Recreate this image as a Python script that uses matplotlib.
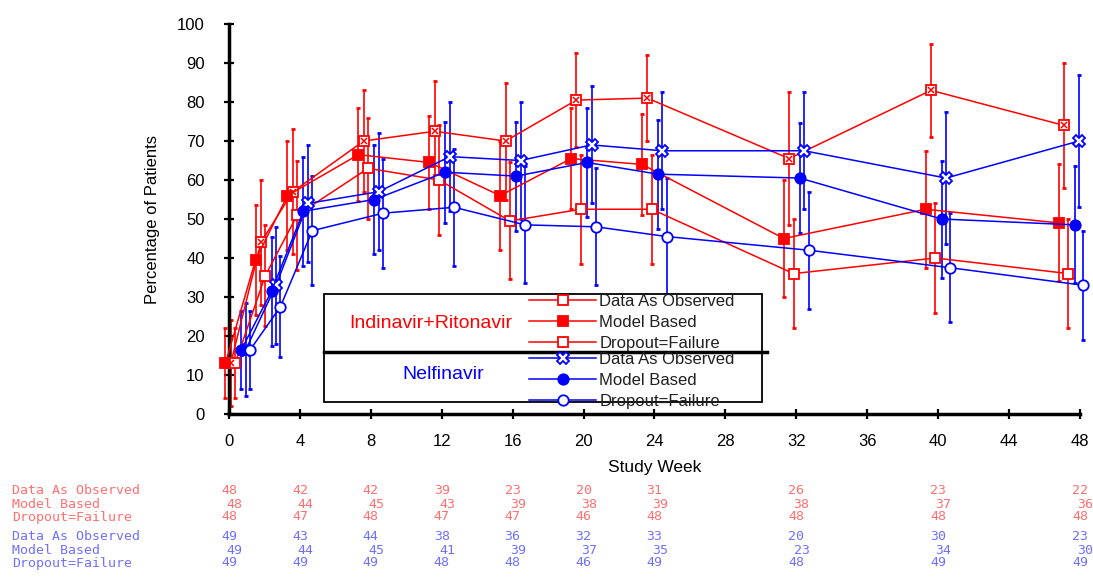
import numpy as np
import matplotlib.pyplot as plt
from matplotlib.patches import Rectangle
from matplotlib.lines import Line2D
import matplotlib.transforms as mtransforms

plt.rcParams['font.family'] = ['Liberation Sans', 'DejaVu Sans']

# mean study week of each visit, and the n-table weeks
weeks = [0.5, 2.2, 4, 8, 12, 16, 20, 24, 32, 40, 47.5]
table_weeks = [0, 4, 8, 12, 16, 20, 24, 32, 40, 48]

# Indinavir+Ritonavir
red_dao = [13, 44, 57, 70, 72.5, 70, 80.5, 81, 65.5, 83, 74]
red_mb = [13, 39.5, 56, 66.5, 64.5, 56, 65.5, 64, 45, 52.5, 49]
red_df = [13, 35.5, 51, 63, 60, 49.5, 52.5, 52.5, 36, 40, 36]
red_dao_err = [11, 16, 16, 13, 13, 15, 12, 11, 17, 12, 16]
red_mb_err = [9, 14, 14, 12, 12, 14, 13, 13, 15, 15, 15]
red_df_err = [9, 13, 14, 13, 14, 15, 14, 14, 14, 14, 14]

# Nelfinavir
blue_dao = [16.5, 33, 54, 57, 66, 65, 69, 67.5, 67.5, 60.5, 70]
blue_mb = [16.5, 31.5, 52, 55, 62, 61, 64.5, 61.5, 60.5, 50, 48.5]
blue_df = [16.5, 27.5, 47, 51.5, 53, 48.5, 48, 45.5, 42, 37.5, 33]
blue_dao_err = [12, 15, 15, 15, 14, 15, 15, 15, 15, 17, 17]
blue_mb_err = [10, 14, 14, 14, 13, 14, 14, 14, 14, 15, 15]
blue_df_err = [10, 13, 14, 14, 15, 15, 15, 15, 15, 14, 14]

# number of patients per visit
n_labels = ["Data As Observed", "Model Based", "Dropout=Failure"]
n_red = [[48, 42, 42, 39, 23, 20, 31, 26, 23, 22],
         [48, 44, 45, 43, 39, 38, 39, 38, 37, 36],
         [48, 47, 48, 47, 47, 46, 48, 48, 48, 48]]
n_blue = [[49, 43, 44, 38, 36, 32, 33, 20, 30, 23],
          [49, 44, 45, 41, 39, 37, 35, 23, 34, 30],
          [49, 49, 49, 48, 48, 46, 49, 48, 49, 49]]

RED = '#ff0000'
BLUE = '#0000ff'

fig = plt.figure(figsize=(10.93, 5.79), dpi=100)
ax = fig.add_axes([0.2095, 0.285, 0.7785, 0.6735])

w = np.array(weeks)

def series(y, err, dx, color, marker, face, ms):
    ax.errorbar(w + dx, y, yerr=err, fmt='none', ecolor=color, elinewidth=1.2,
                capsize=1.5, capthick=2, clip_on=False, zorder=2)
    ln, = ax.plot(w + dx, y, color=color, lw=1.1, marker=marker, ms=ms,
                  mfc=face, mec=color, mew=1.3, clip_on=False, zorder=3)
    return ln

h_rdao = series(red_dao, red_dao_err, -0.4, RED, 's', 'white', 7.5)
ax.plot(w - 0.4, red_dao, ls='none', marker='x', ms=4.5, mec=RED, mew=1.1, clip_on=False, zorder=4)
h_rmb = series(red_mb, red_mb_err, -0.7, RED, 's', RED, 7.5)
h_rdf = series(red_df, red_df_err, -0.15, RED, 's', 'white', 7.5)
h_bdao = series(blue_dao, blue_dao_err, 0.45, BLUE, 'X', 'white', 8.5)
h_bmb = series(blue_mb, blue_mb_err, 0.2, BLUE, 'o', BLUE, 7.5)
h_bdf = series(blue_df, blue_df_err, 0.7, BLUE, 'o', 'white', 7.5)

ax.set_xlim(0, 48)
ax.set_ylim(0, 100)
ax.set_xticks(range(0, 49, 4))
ax.set_yticks(range(0, 101, 10))
for s in ['top', 'right']:
    ax.spines[s].set_visible(False)
for s in ['left', 'bottom']:
    ax.spines[s].set_linewidth(2.5)
ax.tick_params(direction='inout', length=7, width=1.6, labelsize=12)
ax.tick_params(axis='y', pad=14)
ax.tick_params(axis='x', pad=11)
ax.set_xlabel("Study Week", fontsize=12.5, labelpad=8)
ax.set_ylabel("Percentage of Patients", fontsize=12, labelpad=12)

# legend box
ax.add_patch(Rectangle((0.112, 0.03), 0.515, 0.277, transform=ax.transAxes,
                       fill=True, fc='white', ec='black', lw=1.3, zorder=5, clip_on=False))
ax.add_line(Line2D([0.112, 0.632], [0.159, 0.159], transform=ax.transAxes,
                   color='black', lw=2.5, zorder=6, clip_on=False))
ax.text(0.237, 0.233, "Indinavir+Ritonavir", transform=ax.transAxes, color=RED,
        fontsize=14, ha='center', va='center', zorder=7)
ax.text(0.252, 0.10, "Nelfinavir", transform=ax.transAxes, color=BLUE,
        fontsize=14, ha='center', va='center', zorder=7)

leg_kw = dict(loc='upper left', frameon=False, fontsize=12, handlelength=4.0,
              handletextpad=0.2, labelspacing=0.36, borderpad=0, borderaxespad=0)
leg1 = ax.legend([h_rdao, h_rmb, h_rdf], n_labels, bbox_to_anchor=(0.353, 0.307), **leg_kw)
leg1.set_zorder(8)
ax.add_artist(leg1)
leg2 = ax.legend([h_bdao, h_bmb, h_bdf], n_labels, bbox_to_anchor=(0.353, 0.160), **leg_kw)
leg2.set_zorder(8)
for leg in (leg1, leg2):
    for t in leg.get_texts():
        t.set_color('#202020')

# n table under the axis
trans = mtransforms.blended_transform_factory(ax.transData, fig.transFigure)
row_y_red = [1 - 491 / 579, 1 - 504 / 579, 1 - 517 / 579]
row_y_blue = [1 - 537 / 579, 1 - 550 / 579, 1 - 563 / 579]
for rows, ys, col in [(n_red, row_y_red, '#ff7070'), (n_blue, row_y_blue, '#7070ff')]:
    for i, (vals, yy) in enumerate(zip(rows, ys)):
        fig.text(0.011, yy, n_labels[i], color=col, fontsize=9.5, family='DejaVu Sans Mono',
                 va='center', ha='left')
        for wk, v in zip(table_weeks, vals):
            ax.text(wk + (0.3 if i == 1 else 0), yy, str(v), transform=trans, color=col,
                    fontsize=9.5, family='DejaVu Sans Mono', va='center', ha='center')

fig.savefig('out.png', dpi=100)
